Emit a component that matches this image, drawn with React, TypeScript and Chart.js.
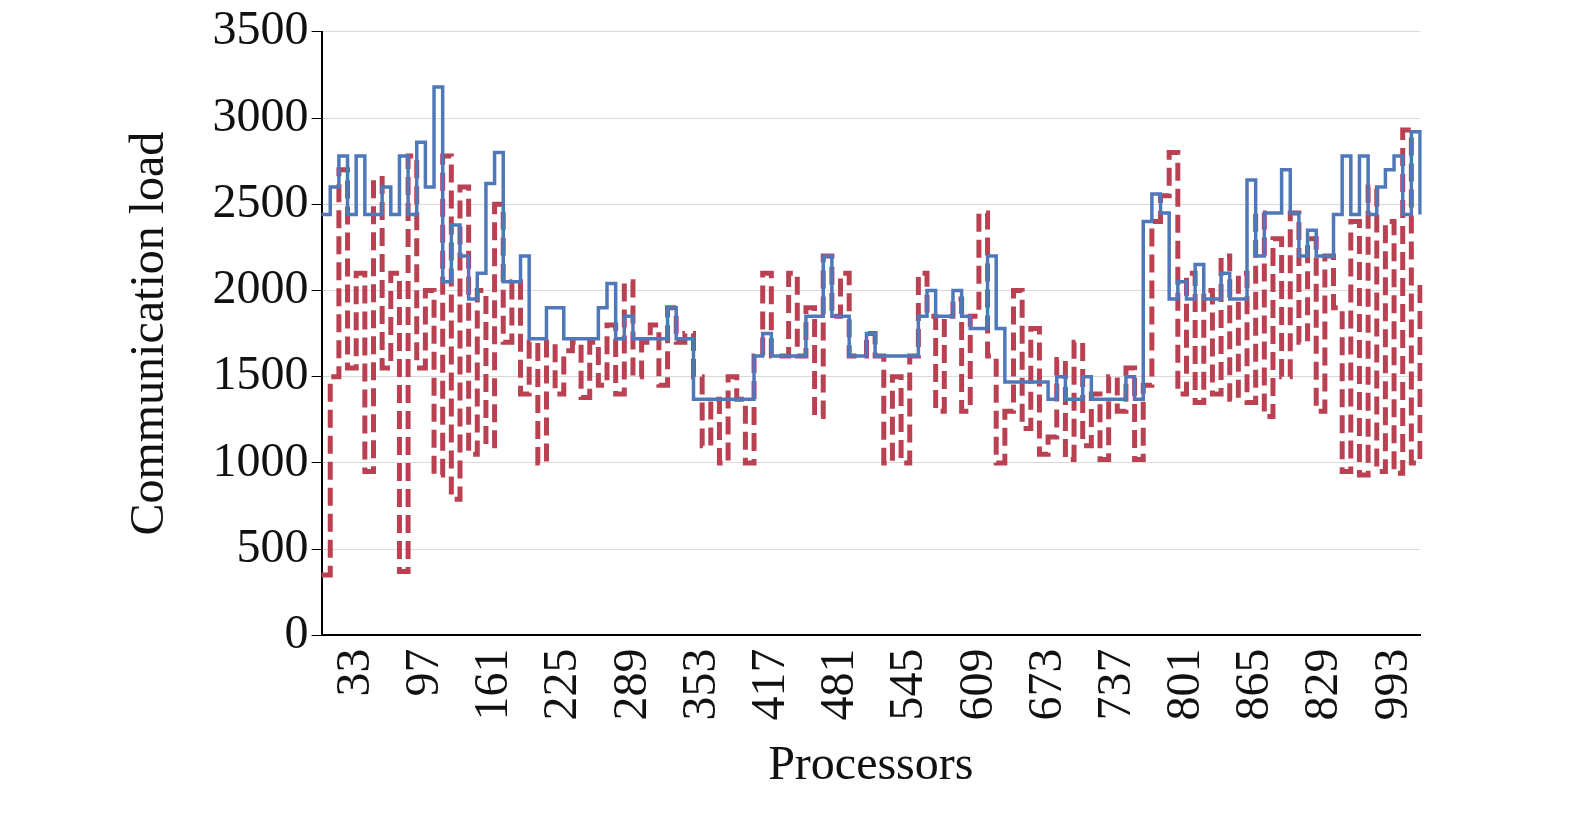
import React, { useEffect, useRef } from "react";
import { Chart, registerables } from "chart.js";
Chart.register(...registerables);

const tickLabels = ["33","97","161","225","289","353","417","481","545","609","673","737","801","865","829","993"];
const procLabels: string[] = Array.from({ length: 128 }, (_, i) => String(i * 8 + 1));
const blueSeries = [
2440,2600,2780,2440,2780,2440,2440,2600,
2440,2780,2440,2860,2600,3180,2050,2380,
2200,1950,2100,2620,2800,2050,2050,2200,
1720,1720,1900,1900,1720,1720,1720,1720,
1900,2040,1720,1850,1720,1720,1720,1720,
1900,1720,1720,1370,1370,1370,1370,1370,
1370,1370,1620,1750,1620,1620,1620,1620,
1850,1850,2200,1850,1850,1620,1620,1750,
1620,1620,1620,1620,1620,1850,2000,1850,
1850,2000,1850,1780,1780,2200,1780,1470,
1470,1470,1470,1470,1370,1500,1370,1370,
1500,1370,1370,1370,1370,1500,1370,2400,
2560,2450,1950,2050,1950,2150,1950,1950,
2100,1950,1950,2640,2200,2450,2450,2700,
2450,2200,2350,2200,2200,2440,2780,2440,
2780,2440,2600,2700,2780,2440,2920,2440];
const redSeries = [
350,1500,2700,1550,2100,950,2650,1550,
2100,370,2780,1550,2000,930,2780,790,
2600,1050,2000,1100,2500,1700,2050,1400,
1700,1000,1700,1400,1650,1700,1380,1700,
1450,1800,1400,2050,1500,1700,1800,1450,
1900,1700,1750,
1500,1100,1370,1000,1500,1370,1000,
1620,2100,1620,1620,2100,1620,
1900,1270,2200,1850,2100,1620,
1620,1750,1620,1000,1500,1000,1620,2100,
1850,1300,1850,1950,1300,1850,
2450,1620,1000,
1300,2000,1200,1780,1050,
1150,1600,1020,1700,1100,1400,1020,1500,1300,1550,
1020,1450,2400,2550,
2800,1400,2100,1350,2000,1400,2200,1370,2100,1350,
2450,1270,2300,1500,2450,1700,2300,1300,
2200,1900,950,2400,930,
2600,950,2400,940,2930,1000,2050];

export default function App() {
  const ref = useRef<HTMLCanvasElement>(null);
  useEffect(() => {
    const font = { family: "Liberation Serif", size: 48 };
    const chart = new Chart(ref.current!, {
      type: "line",
      data: {
        labels: procLabels,
        datasets: [
          { data: blueSeries, borderColor: "#4f78bb", borderWidth: 3.5, stepped: true, pointRadius: 0 },
          { data: redSeries, borderColor: "#b94152", borderWidth: 5, borderDash: [18, 8], stepped: true, pointRadius: 0 },
        ],
      },
      options: {
        animation: false, responsive: false,
        layout: { padding: { left: 118, right: 155, top: 16, bottom: 30 } },
        plugins: { legend: { display: false }, tooltip: { enabled: false } },
        scales: {
          x: {
            offset: false,
            grid: { display: false, drawOnChartArea: false, drawTicks: true, tickLength: 10, color: "#000" },
            border: { color: "#000", width: 2 },
            ticks: {
              autoSkip: false, maxRotation: 90, minRotation: 90, color: "#111", font,
              callback: (_v: any, i: number) => (i % 8 === 4 ? tickLabels[(i - 4) / 8] : null),
            },
            title: { display: true, text: "Processors", color: "#111", font, padding: { top: 14 } },
          },
          y: {
            min: 0, max: 3500,
            grid: { color: "#d9d9d9", tickColor: "#000", tickLength: 10 },
            border: { color: "#000", width: 2 },
            ticks: { stepSize: 500, color: "#111", font, callback: (v: any) => String(v) },
            title: { display: true, text: "Communication load", color: "#111", font, padding: { bottom: 30 } },
          },
        },
      },
    });
    return () => chart.destroy();
  }, []);
  return (
    <div style={{ position: "fixed", left: 0, top: 0, width: 1575, height: 829, background: "#fff" }}>
      <canvas ref={ref} width={1575} height={829} />
    </div>
  );
}
